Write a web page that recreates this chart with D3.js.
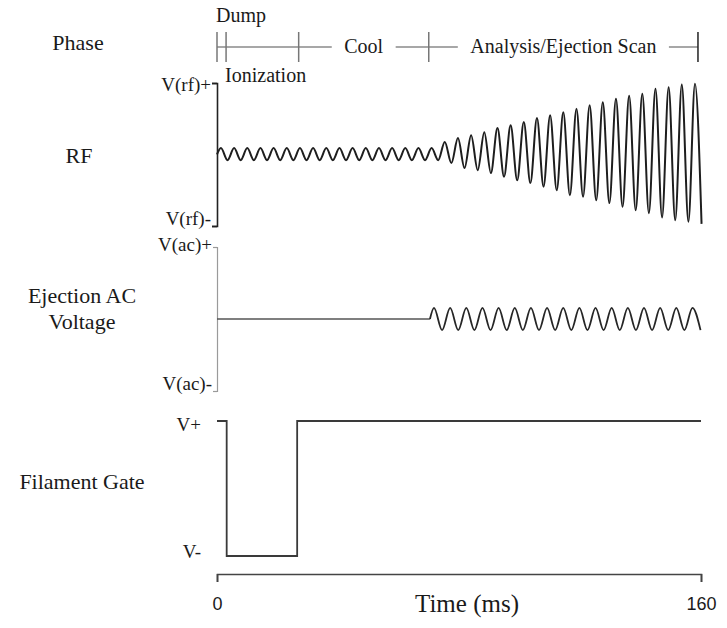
<!DOCTYPE html>
<html><head><meta charset="utf-8">
<script src="https://cdn.jsdelivr.net/npm/d3@7"></script>
<style>
body{margin:0;background:#fff}
svg{display:block}
text{font-family:"Liberation Serif","Times New Roman",serif;fill:#1a1a1a}
</style>
</head><body>
<svg id="c" width="727" height="628"></svg>
<script>
// ---------- data ----------
const timeDomain = [0, 160];
const timeTicks = [0, 160];
const timeLabel = "Time (ms)";
const phaseNames = ["Dump", "Ionization", "Cool", "Analysis/Ejection Scan"];
const phaseStarts = [0, 3, 27, 70];
const phaseEnd = 159;
const rowLabels = ["Phase", "RF", "Ejection AC", "Voltage", "Filament Gate"];
const rfTickLabels = ["V(rf)-", "V(rf)+"];
const acTickLabels = ["V(ac)-", "V(ac)+"];
const gateTickLabels = ["V-", "V+"];
// RF: one peak and one following trough per cycle (normalised to V(rf)±)
const rfFirstPeak = 1.3, rfPeriod = 4.353;
const rfPeaks = [0.09,0.09,0.09,0.09,0.09,0.09,0.09,0.09,0.09,0.09,0.09,0.09,0.09,0.09,0.09,0.09,0.09,
                 0.175,0.23,0.27,0.31,0.37,0.41,0.455,0.51,0.55,0.59,0.64,0.69,0.73,0.78,0.82,0.85,0.92,0.94,0.98,0.99];
const rfTroughs = [-0.08,-0.08,-0.08,-0.08,-0.08,-0.08,-0.08,-0.08,-0.08,-0.08,-0.08,-0.08,-0.08,-0.08,-0.08,-0.08,-0.08,
                   -0.12,-0.19,-0.22,-0.26,-0.31,-0.36,-0.40,-0.45,-0.50,-0.57,-0.59,-0.64,-0.68,-0.73,-0.78,-0.82,-0.88,-0.92,-0.94,-0.97];
// Ejection AC
const acStart = 70.4, acPeriod = 5.34, acCycles = 17, acAmplitude = 0.155;
// Filament gate
const gateTimes  = [0, 3.2, 3.2, 26.5, 26.5, 160];
const gateLevels = [1, 1, 0, 0, 1, 1];

// ---------- layout ----------
const svg = d3.select("#c");
const x = d3.scaleLinear().domain(timeDomain).range([217, 701]);
const yRF = d3.scaleLinear().domain([-1, 1]).range([226, 83]);
const yAC = d3.scaleLinear().domain([-1, 1]).range([391, 247]);
const yG = d3.scaleLinear().domain([0, 1]).range([556, 421]);
const phaseY = 47;

// ---------- row labels ----------
const rowLabelPos = [[78, 50], [79, 163], [82, 303], [82, 329], [82, 489]];
svg.append("g").selectAll("text").data(rowLabels).join("text")
  .attr("x", (d, i) => rowLabelPos[i][0]).attr("y", (d, i) => rowLabelPos[i][1])
  .attr("text-anchor", "middle").attr("font-size", 22).text(d => d);

// ---------- phase bar ----------
const phaseG = svg.append("g");
const bounds = phaseStarts.concat([phaseEnd]);
const lineCol = "#8a8a8a";
phaseG.append("text").attr("x", x(phaseStarts[0]) - 1).attr("y", 22).attr("font-size", 20).text(phaseNames[0]);
phaseG.append("text").attr("x", x(phaseStarts[1]) - 1).attr("y", 82).attr("font-size", 20).text(phaseNames[1]);
phaseG.append("line").attr("x1", x(bounds[0])).attr("x2", x(bounds[2]))
  .attr("y1", phaseY).attr("y2", phaseY).attr("stroke", lineCol).attr("stroke-width", 1.5);
[2, 3].forEach(i => {
  const a = x(bounds[i]), b = x(bounds[i + 1]);
  const t = phaseG.append("text").attr("x", (a + b) / 2).attr("y", 53)
    .attr("text-anchor", "middle").attr("font-size", 20).text(phaseNames[i]);
  const w = t.node().getComputedTextLength();
  const pad = 12.5;
  phaseG.append("line").attr("x1", a).attr("x2", (a + b) / 2 - w / 2 - pad)
    .attr("y1", phaseY).attr("y2", phaseY).attr("stroke", lineCol).attr("stroke-width", 1.5);
  phaseG.append("line").attr("x1", (a + b) / 2 + w / 2 + pad).attr("x2", b)
    .attr("y1", phaseY).attr("y2", phaseY).attr("stroke", lineCol).attr("stroke-width", 1.5);
});
phaseG.selectAll("line.tk").data(bounds).join("line").attr("class", "tk")
  .attr("x1", d => x(d)).attr("x2", d => x(d)).attr("y1", 32).attr("y2", 62)
  .attr("stroke", (d, i) => i === bounds.length - 1 ? "#222" : "#777").attr("stroke-width", 1.5);

// ---------- axes helpers ----------
function styleAxis(g, col, sw, fs) {
  g.selectAll("path,line").attr("stroke", col).attr("stroke-width", sw);
  g.selectAll("text").style("font-family", '"Liberation Serif","Times New Roman",serif')
    .attr("font-size", fs).style("fill", "#1a1a1a");
}
const labelShift = {rf: [-8, 1], ac: [-8, -3], gate: [-5, 3]};

// RF axis
const rfAxis = svg.append("g").attr("transform", `translate(${x(0)},0)`)
  .call(d3.axisLeft(yRF).tickValues([-1, 1]).tickSize(5).tickSizeOuter(5).tickPadding(1)
    .tickFormat((d, i) => rfTickLabels[i]));
styleAxis(rfAxis, "#222", 1.6, 19);
rfAxis.selectAll(".tick text").attr("dy", (d, i) => (6 + labelShift.rf[i]) + "px");

// AC axis
const acAxis = svg.append("g").attr("transform", `translate(${x(0)},0)`)
  .call(d3.axisLeft(yAC).tickValues([-1, 1]).tickSize(4).tickSizeOuter(4).tickPadding(1)
    .tickFormat((d, i) => acTickLabels[i]));
styleAxis(acAxis, "#9a9a9a", 1.2, 19);
acAxis.selectAll(".tick text").attr("dy", (d, i) => (6 + labelShift.ac[i]) + "px");

// Gate labels
const gAxis = svg.append("g").attr("transform", `translate(${x(0)},0)`)
  .call(d3.axisLeft(yG).tickValues([0, 1]).tickSize(0).tickPadding(16)
    .tickFormat((d, i) => gateTickLabels[i]));
gAxis.select(".domain").remove();
styleAxis(gAxis, "#222", 1, 19);
gAxis.selectAll(".tick text").attr("dy", (d, i) => (6 + labelShift.gate[i]) + "px");

// Time axis
const tAxis = svg.append("g").attr("transform", "translate(0,574)")
  .call(d3.axisBottom(x).tickValues(timeTicks).tickSize(8).tickSizeOuter(8).tickPadding(15)
    .tickFormat(d => String(d)));
tAxis.selectAll("path,line").attr("stroke", "#444").attr("stroke-width", 1.6);
tAxis.selectAll("text").style("font-family", '"Liberation Sans",Arial,sans-serif')
  .attr("font-size", 18).style("fill", "#1a1a1a");
svg.append("text").attr("x", 467).attr("y", 612).attr("text-anchor", "middle")
  .attr("font-size", 25).text(timeLabel);

// ---------- traces ----------
const rfPts = [{t: 0, v: 0}];
rfPeaks.forEach((p, i) => {
  const tp = rfFirstPeak + i * rfPeriod;
  rfPts.push({t: tp, v: p});
  rfPts.push({t: tp + rfPeriod / 2, v: rfTroughs[i]});
});
svg.append("path").datum(rfPts)
  .attr("d", d3.line().x(d => x(d.t)).y(d => yRF(d.v)).curve(d3.curveMonotoneX))
  .attr("fill", "none").attr("stroke", "#1e1e1e").attr("stroke-width", 2);

const acPts = [{t: 0, v: 0}, {t: acStart, v: 0}];
for (let k = 0; k < acCycles; k++) {
  const tp = acStart + acPeriod / 4 + k * acPeriod;
  acPts.push({t: tp, v: acAmplitude});
  acPts.push({t: tp + acPeriod / 2, v: -acAmplitude});
}
svg.append("path").datum(acPts.slice(0, 2))
  .attr("d", d3.line().x(d => x(d.t)).y(d => yAC(d.v)))
  .attr("fill", "none").attr("stroke", "#555").attr("stroke-width", 1.4);
svg.append("path").datum(acPts.slice(1))
  .attr("d", d3.line().x(d => x(d.t)).y(d => yAC(d.v)).curve(d3.curveMonotoneX))
  .attr("fill", "none").attr("stroke", "#262626").attr("stroke-width", 1.8);

const gatePts = gateTimes.map((t, i) => ({t, v: gateLevels[i]}));
svg.append("path").datum(gatePts)
  .attr("d", d3.line().x(d => x(d.t)).y(d => yG(d.v)))
  .attr("fill", "none").attr("stroke", "#3a3a3a").attr("stroke-width", 1.8);
</script>
</body></html>
